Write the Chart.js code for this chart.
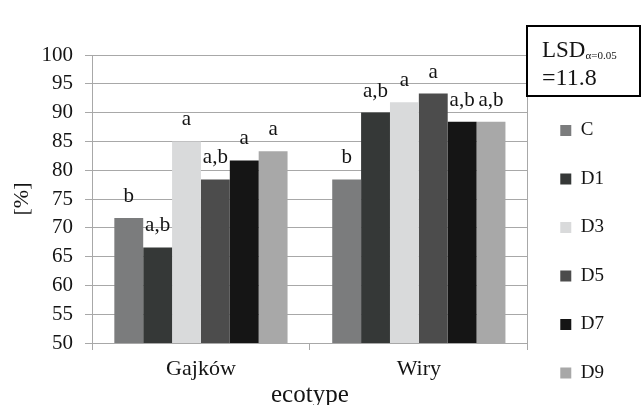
<!DOCTYPE html>
<html>
<head>
<meta charset="utf-8">
<script src="https://cdn.jsdelivr.net/npm/chart.js@4.4.1/dist/chart.umd.min.js"></script>
<style>
  html, body { margin: 0; padding: 0; background: #ffffff; }
  #wrap { width: 641px; height: 405px; position: relative; }
  #probe { position: absolute; left: -1000px; top: 0; font-family: "Liberation Serif"; font-size: 20px; }
</style>
</head>
<body>
<div id="wrap"><canvas id="chart" width="641" height="405"></canvas></div>
<span id="probe">Gajków ecotype 0123456789 α</span>
<script>
// Ecotypes on the category axis
const ecotypes = ['Gajków', 'Wiry'];

// Treatment series (values in %)
const seriesNames = ['C', 'D1', 'D3', 'D5', 'D7', 'D9'];
const valuesC  = [71.7, 78.4];
const valuesD1 = [66.6, 90.0];
const valuesD3 = [85.0, 91.8];
const valuesD5 = [78.4, 93.3];
const valuesD7 = [81.7, 88.4];
const valuesD9 = [83.3, 88.4];

// Homogeneous-group letters shown above each bar
const lettersC  = ['b', 'b'];
const lettersD1 = ['a,b', 'a,b'];
const lettersD3 = ['a', 'a'];
const lettersD5 = ['a,b', 'a'];
const lettersD7 = ['a', 'a,b'];
const lettersD9 = ['a', 'a,b'];

// Value axis ticks
const yTicks = [50, 55, 60, 65, 70, 75, 80, 85, 90, 95, 100];

const seriesValues  = [valuesC, valuesD1, valuesD3, valuesD5, valuesD7, valuesD9];
const seriesLetters = [lettersC, lettersD1, lettersD3, lettersD5, lettersD7, lettersD9];
const seriesColors  = ['#7b7c7d', '#353837', '#d9dadb', '#4c4c4c', '#151515', '#a8a8a8'];

const SERIF = '"Liberation Serif", serif';
const TEXT = '#141414';
const GRID = '#a8a8a8';

// Letters above the bars
const letterPlugin = {
  id: 'groupLetters',
  afterDatasetsDraw(chart) {
    const ctx = chart.ctx;
    ctx.save();
    ctx.font = '21px ' + SERIF;
    ctx.fillStyle = TEXT;
    ctx.textAlign = 'center';
    ctx.textBaseline = 'alphabetic';
    chart.data.datasets.forEach((ds, i) => {
      const meta = chart.getDatasetMeta(i);
      meta.data.forEach((bar, j) => {
        ctx.fillText(seriesLetters[i][j], bar.x, bar.y - 16);
      });
    });
    ctx.restore();
  }
};

// LSD note box in the top-right corner
const lsdPlugin = {
  id: 'lsdNote',
  afterDraw(chart) {
    const ctx = chart.ctx;
    ctx.save();
    ctx.fillStyle = '#ffffff';
    ctx.fillRect(527, 26, 113, 70);
    ctx.strokeStyle = '#000000';
    ctx.lineWidth = 2;
    ctx.strokeRect(527, 26, 113, 70);
    ctx.fillStyle = TEXT;
    ctx.textAlign = 'left';
    ctx.textBaseline = 'alphabetic';
    ctx.font = '23px ' + SERIF;
    ctx.fillText('LSD', 542, 57);
    const w = ctx.measureText('LSD').width;
    ctx.font = '11px ' + SERIF;
    ctx.fillText('α=0.05', 542 + w, 59);
    ctx.font = '24px ' + SERIF;
    ctx.fillText('=11.8', 542, 85);
    ctx.restore();
  }
};

function drawChart() {
  Chart.defaults.font.family = SERIF;
  new Chart(document.getElementById('chart'), {
    type: 'bar',
    data: {
      labels: ecotypes,
      datasets: seriesNames.map((name, i) => ({
        label: name,
        data: seriesValues[i],
        backgroundColor: seriesColors[i],
        borderWidth: 0,
        barPercentage: 1,
        categoryPercentage: 0.795
      }))
    },
    options: {
      responsive: false,
      animation: false,
      devicePixelRatio: 1,
      layout: { padding: { left: 0, right: 27, top: 0, bottom: -9 } },
      plugins: {
        tooltip: { enabled: false },
        title: {
          display: true,
          text: '',
          fullSize: false,
          padding: { top: 54, bottom: 0 },
          font: { size: 1, lineHeight: 1 }
        },
        legend: {
          display: true,
          position: 'right',
          align: 'start',
          title: {
            display: true,
            text: '',
            padding: { top: 90.5, bottom: 0 },
            font: { size: 1, lineHeight: 1 }
          },
          labels: {
            boxWidth: 11,
            boxHeight: 11,
            padding: 29.5,
            color: TEXT,
            font: { family: SERIF, size: 19 }
          }
        }
      },
      scales: {
        x: {
          type: 'category',
          offset: true,
          grid: {
            offset: true,
            color: (c) => (c.index === 1 ? 'rgba(0,0,0,0)' : GRID),
            tickColor: GRID,
            tickLength: 7,
            lineWidth: 1
          },
          border: { display: true, color: GRID, width: 1 },
          ticks: { color: TEXT, padding: 6, font: { family: SERIF, size: 22 } },
          title: {
            display: true,
            text: 'ecotype',
            color: TEXT,
            font: { family: SERIF, size: 25 },
            padding: { top: 0, bottom: 4 }
          },
          afterFit(scale) { scale.height = 71; }
        },
        y: {
          min: 50,
          max: 100,
          afterBuildTicks(scale) { scale.ticks = yTicks.map(v => ({ value: v })); },
          grid: { color: GRID, tickColor: GRID, tickLength: 7, lineWidth: 1 },
          border: { display: true, color: GRID, width: 1 },
          ticks: { color: TEXT, padding: 12, font: { family: SERIF, size: 21 } },
          title: {
            display: true,
            text: '[%]',
            color: TEXT,
            font: { family: SERIF, size: 22 },
            padding: { top: 8.6, bottom: 0 }
          },
          afterFit(scale) { scale.width = 92; }
        },
        // narrow spacer between the plot frame and the legend
        spacer: {
          type: 'linear',
          position: 'right',
          display: true,
          grid: { display: false, drawTicks: false },
          border: { display: false },
          ticks: { display: false },
          afterFit(scale) { scale.width = 3; }
        }
      }
    },
    plugins: [letterPlugin, lsdPlugin]
  });
}

// Make sure the serif face is ready before the canvas text is measured
if (document.fonts && document.fonts.load) {
  Promise.all([
    document.fonts.load('20px "Liberation Serif"'),
    document.fonts.load('11px "Liberation Serif"', 'α')
  ]).then(drawChart, drawChart);
} else {
  drawChart();
}
</script>
</body>
</html>
